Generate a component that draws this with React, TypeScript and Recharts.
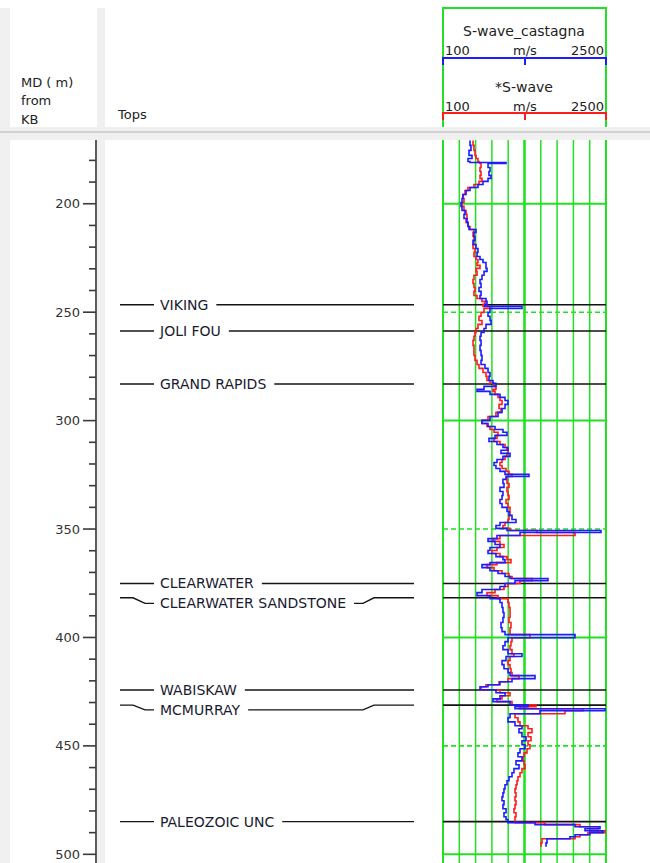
import React from 'react';
import { LineChart, Line, Scatter, XAxis, YAxis, ReferenceLine } from 'recharts';

const FONT = '"DejaVu Sans", sans-serif';
const FONT_SIZE = 13;
const NAME_SIZE = 14;
const GREEN = '#22e022';
const BLUE = '#1c1cff';
const RED = '#ff1c1c';
const PANEL_GRAY = '#f0f0f0';

// depth scale (m, measured depth from KB)
const DEPTH_DOMAIN = [170.6, 504];
const DEPTH_LABELS = [200, 250, 300, 350, 400, 450, 500];
const DEPTH_TICKS = [
  180, 190, 200, 210, 220, 230, 240, 250, 260, 270, 280, 290, 300, 310, 320,
  330, 340, 350, 360, 370, 380, 390, 400, 410, 420, 430, 440, 450, 460, 470,
  480, 490, 500,
];
const GRID_SOLID = [200, 300, 400, 500];
const GRID_DASHED = [250, 350, 450];

// velocity scale (m/s), 10 linear divisions
const VEL_DOMAIN = [100, 2500];
const VEL_GRID = [100, 340, 580, 820, 1060, 1300, 1540, 1780, 2020, 2260, 2500];

// formation tops
const TOP_NAMES = [
  'VIKING',
  'JOLI FOU',
  'GRAND RAPIDS',
  'CLEARWATER',
  'CLEARWATER SANDSTONE',
  'WABISKAW',
  'MCMURRAY',
  'PALEOZOIC UNC',
];
const TOP_DEPTHS = [246.6, 258.7, 283.1, 375.1, 381.7, 424.2, 431.2, 484.9];

// log samples
const DEPTH = [
  170.8, 173.1, 175.4, 177.7, 179.1, 180.5, 181.0, 181.4, 183.3, 185.1,
  186.9, 188.3, 189.7, 191.1, 192.5, 193.9, 195.7, 197.6, 199.4, 201.2,
  203.1, 204.9, 206.8, 208.6, 210.5, 211.9, 213.2, 215.1, 216.9, 218.8,
  220.6, 222.4, 224.3, 225.7, 227.1, 228.4, 229.8, 231.2, 233.0, 234.9,
  236.7, 238.6, 240.4, 242.3, 243.7, 245.0, 246.4, 247.3, 248.3, 250.1,
  251.9, 253.8, 255.6, 257.5, 259.3, 261.1, 263.0, 265.3, 267.6, 269.9,
  272.2, 274.1, 275.9, 277.8, 279.6, 281.5, 282.8, 284.2, 285.6, 286.5,
  287.9, 289.3, 290.7, 292.5, 294.4, 296.2, 298.1, 299.9, 301.3, 302.7,
  304.1, 305.4, 306.8, 308.2, 309.6, 311.0, 312.4, 313.7, 315.1, 316.5,
  317.9, 319.3, 320.7, 322.1, 323.4, 324.8, 325.8, 327.1, 329.0, 330.8,
  332.7, 334.5, 336.4, 338.2, 340.0, 341.9, 343.7, 345.6, 347.0, 348.4,
  349.7, 350.7, 351.6, 353.0, 354.4, 355.7, 357.1, 358.5, 359.9, 361.3,
  362.7, 364.1, 365.5, 366.4, 367.8, 369.2, 370.5, 371.9, 372.8, 373.8,
  375.1, 376.5, 377.9, 379.3, 380.7, 382.1, 383.9, 386.2, 388.5, 390.8,
  393.1, 395.5, 397.3, 398.7, 400.1, 401.9, 403.8, 405.6, 407.5, 408.8,
  410.7, 412.5, 414.4, 416.2, 417.6, 419.0, 420.4, 421.8, 422.7, 424.1,
  425.5, 426.9, 428.3, 429.6, 431.0, 431.9, 432.9, 433.8, 435.2, 437.0,
  438.9, 440.7, 442.1, 443.9, 445.8, 447.6, 449.5, 451.3, 453.2, 455.0,
  456.9, 458.7, 460.5, 462.4, 464.2, 466.1, 467.9, 469.8, 471.6, 473.5,
  475.3, 477.1, 479.0, 480.8, 482.7, 484.0, 485.4, 486.3, 487.3, 488.2,
  489.1, 490.0, 491.0, 491.9, 492.8, 494.7, 496.5,
];
const CASTAGNA = [
  498, 512, 483, 527, 468, 498, 1028, 763, 792, 777,
  807, 763, 689, 615, 498, 439, 394, 380, 365, 380,
  424, 409, 453, 468, 483, 586, 556, 571, 542, 586,
  615, 601, 645, 689, 733, 733, 748, 704, 674, 645,
  660, 630, 660, 645, 733, 748, 718, 1263, 792, 763,
  792, 807, 733, 704, 660, 645, 660, 645, 660, 674,
  660, 718, 763, 792, 777, 836, 880, 704, 601, 792,
  939, 1013, 1057, 1013, 969, 910, 792, 674, 763, 866,
  983, 1042, 866, 777, 895, 983, 1057, 954, 1087, 983,
  895, 851, 880, 939, 1013, 1366, 1028, 983, 998, 939,
  983, 969, 939, 969, 1042, 1072, 1116, 1175, 939, 880,
  1042, 2426, 1234, 895, 763, 866, 939, 792, 763, 880,
  983, 1013, 792, 674, 792, 910, 1013, 1087, 1646, 1160,
  1013, 939, 674, 601, 792, 939, 969, 983, 998, 983,
  954, 969, 1013, 2044, 1057, 1013, 983, 1057, 1263, 1028,
  969, 998, 1057, 1087, 1455, 1116, 939, 763, 645, 880,
  1013, 939, 836, 1087, 1352, 1160, 2485, 1528, 1087, 1057,
  1160, 1263, 1219, 1263, 1322, 1263, 1307, 1234, 1204, 1263,
  1175, 1219, 1145, 1116, 1072, 1042, 1013, 998, 983, 969,
  998, 983, 1028, 998, 1028, 1057, 1455, 2044, 2412, 2191,
  2456, 2264, 2044, 1969, 1631, 1617, 1617,
];
const SWAVE = [
  542, 556, 571, 586, 615, 630, 645, 660, 645, 660,
  645, 674, 630, 556, 468, 424, 394, 409, 380, 409,
  439, 453, 439, 468, 498, 556, 542, 556, 556, 542,
  571, 556, 586, 615, 601, 645, 586, 601, 556, 542,
  556, 571, 556, 601, 674, 718, 689, 792, 704, 660,
  630, 674, 615, 586, 571, 556, 542, 556, 556, 571,
  601, 630, 689, 733, 748, 792, 851, 880, 836, 866,
  910, 939, 969, 925, 954, 880, 763, 674, 748, 792,
  851, 910, 895, 851, 939, 1013, 1042, 1057, 1042, 1013,
  969, 939, 969, 1028, 1072, 1116, 1042, 1042, 1072, 1042,
  1057, 1072, 1028, 1057, 1087, 1087, 1072, 1057, 1013, 983,
  1087, 1484, 2044, 939, 836, 939, 998, 895, 821, 939,
  1042, 1101, 895, 748, 851, 969, 1072, 1116, 1410, 1234,
  1057, 998, 866, 748, 910, 1057, 1072, 1087, 1087, 1072,
  1101, 1087, 1087, 1381, 1116, 1101, 1087, 1116, 1145, 1087,
  1057, 1087, 1101, 1116, 1219, 1057, 925, 733, 660, 939,
  1087, 969, 895, 1116, 1469, 1234, 2161, 1896, 1160, 1204,
  1234, 1352, 1410, 1352, 1396, 1352, 1381, 1337, 1293, 1278,
  1293, 1307, 1263, 1234, 1204, 1190, 1175, 1160, 1175, 1160,
  1175, 1160, 1145, 1175, 1160, 1160, 1602, 2117, 2382, 2264,
  2485, 2235, 2117, 2044, 1558, 1543, 1543,
];

const rows = DEPTH.map((depth, i) => ({
  depth,
  castagna: CASTAGNA[i],
  swave: SWAVE[i],
}));

const PLOT_TOP = 140;
const PLOT_H = 723;
const TOPS_W = 443;
const AXIS_W = 96;
const PX_PER_M = PLOT_H / (DEPTH_DOMAIN[1] - DEPTH_DOMAIN[0]);
const MIN_LABEL_GAP_M = 9.2;

// names pushed down when two tops are too close to label on their own line
const labelShift = (i: number) => {
  if (i === 0) return 0;
  const gap = TOP_DEPTHS[i] - TOP_DEPTHS[i - 1];
  return gap < MIN_LABEL_GAP_M ? (MIN_LABEL_GAP_M - gap) * PX_PER_M : 0;
};

const topRows = TOP_NAMES.map((name, i) => ({
  name,
  depth: TOP_DEPTHS[i],
  pos: 0,
  shift: labelShift(i),
}));

let measureCtx: CanvasRenderingContext2D | null = null;
const textWidth = (s: string) => {
  if (!measureCtx) measureCtx = document.createElement('canvas').getContext('2d');
  if (!measureCtx) return s.length * 9;
  measureCtx.font = `${NAME_SIZE}px "DejaVu Sans"`;
  return measureCtx.measureText(s).width;
};

const textStyle = { fontFamily: FONT, fontSize: FONT_SIZE };
const nameStyle = { fontFamily: FONT, fontSize: NAME_SIZE };

// tick of the depth axis: long tick + label every 50 m, short tick otherwise
const DepthTick = (props: any) => {
  const { x, y, payload } = props;
  const major = DEPTH_LABELS.includes(payload.value);
  return (
    <g>
      <line x1={x - (major ? 13 : 7)} y1={y} x2={x} y2={y} stroke="#3a3a3a" strokeWidth={1.6} />
      {major && (
        <text x={x - 16} y={y} textAnchor="end" dominantBaseline="central" fill="#333" style={textStyle}>
          {payload.value}
        </text>
      )}
    </g>
  );
};

// formation top in the tops track: line, name, line
const TopMarker = (props: any) => {
  const { cx, cy, payload } = props;
  if (cx == null || cy == null || !payload) return null;
  const { name, shift } = payload;
  const x1 = cx;
  const x2 = cx + (TOPS_W - AXIS_W);
  const y = cy;
  const ly = y + shift;
  const textX = x1 + 64;
  const tEnd = textX + textWidth(name) + 8;
  const end = x2 - 29;
  const left = shift
    ? `${x1 + 24},${y} ${x1 + 37},${y} ${x1 + 49},${ly} ${x1 + 58},${ly}`
    : `${x1 + 24},${y} ${x1 + 58},${y}`;
  const right = shift
    ? `${tEnd},${ly} ${x2 - 80},${ly} ${x2 - 69},${y} ${end},${y}`
    : `${tEnd},${y} ${end},${y}`;
  return (
    <g>
      <polyline points={left} fill="none" stroke="#151515" strokeWidth={1.4} />
      <text x={textX} y={ly} dominantBaseline="central" fill="#1a1a30" style={nameStyle}>
        {name}
      </text>
      <polyline points={right} fill="none" stroke="#151515" strokeWidth={1.4} />
    </g>
  );
};

const Header = () => (
  <svg width={650} height={140} style={{ position: 'absolute', left: 0, top: 0 }}>
    <g fill="#222" style={textStyle}>
      <text x={21} y={82} dominantBaseline="central">MD ( m)</text>
      <text x={21} y={100} dominantBaseline="central">from</text>
      <text x={21} y={119} dominantBaseline="central">KB</text>
      <text x={118} y={114} dominantBaseline="central">Tops</text>

      <text x={524} y={31} textAnchor="middle" dominantBaseline="central" style={nameStyle}>S-wave_castagna</text>
      <text x={445} y={50} dominantBaseline="central">100</text>
      <text x={525} y={50} textAnchor="middle" dominantBaseline="central">m/s</text>
      <text x={604} y={50} textAnchor="end" dominantBaseline="central">2500</text>

      <text x={524} y={87} textAnchor="middle" dominantBaseline="central" style={nameStyle}>*S-wave</text>
      <text x={445} y={106} dominantBaseline="central">100</text>
      <text x={525} y={106} textAnchor="middle" dominantBaseline="central">m/s</text>
      <text x={604} y={106} textAnchor="end" dominantBaseline="central">2500</text>
    </g>
    <path d="M443 127 V8 H606 V127" fill="none" stroke={GREEN} strokeWidth={2} />
    <path d="M443 65 V58 H606 V65 M525 58 V65" fill="none" stroke={BLUE} strokeWidth={2} />
    <path d="M443 120 V113 H606 V120 M525 113 V120" fill="none" stroke={RED} strokeWidth={2} />
  </svg>
);

const DepthAndTops = () => (
  <LineChart
    layout="vertical"
    width={TOPS_W}
    height={PLOT_H}
    data={topRows}
    margin={{ top: 0, right: 0, bottom: 0, left: 0 }}
    style={{ position: 'absolute', left: 0, top: PLOT_TOP }}
  >
    <XAxis type="number" dataKey="pos" domain={[0, 1]} hide />
    <YAxis
      type="number"
      dataKey="depth"
      domain={DEPTH_DOMAIN}
      allowDataOverflow
      ticks={DEPTH_TICKS}
      interval={0}
      width={AXIS_W}
      tickSize={0}
      tickMargin={0}
      tickLine={false}
      axisLine={{ stroke: '#333', strokeWidth: 1.6 }}
      tick={DepthTick}
    />
    <Scatter data={topRows} dataKey="pos" shape={TopMarker} isAnimationActive={false} />
  </LineChart>
);

const LogTrack = () => (
  <LineChart
    layout="vertical"
    width={170}
    height={PLOT_H}
    data={rows}
    margin={{ top: 0, right: 4, bottom: 0, left: 3 }}
    style={{ position: 'absolute', left: 440, top: PLOT_TOP }}
  >
    <XAxis type="number" domain={VEL_DOMAIN} ticks={VEL_GRID} allowDataOverflow hide />
    <YAxis type="number" dataKey="depth" domain={DEPTH_DOMAIN} allowDataOverflow hide />
    {VEL_GRID.map((v, i) => (
      <ReferenceLine
        key={`v${v}`}
        x={v}
        stroke={GREEN}
        strokeWidth={i === 0 || i === VEL_GRID.length - 1 ? 2 : i === 5 ? 2.6 : 1.5}
      />
    ))}
    {GRID_SOLID.map((d) => (
      <ReferenceLine key={`s${d}`} y={d} stroke={GREEN} strokeWidth={2} />
    ))}
    {GRID_DASHED.map((d) => (
      <ReferenceLine key={`d${d}`} y={d} stroke={GREEN} strokeWidth={1.6} strokeDasharray="5 3" />
    ))}
    {TOP_DEPTHS.map((d) => (
      <ReferenceLine key={`t${d}`} y={d} stroke="#111" strokeWidth={1.6} />
    ))}
    <Line
      dataKey="swave"
      type="stepBefore"
      stroke={RED}
      strokeWidth={1.6}
      dot={false}
      isAnimationActive={false}
    />
    <Line
      dataKey="castagna"
      type="stepBefore"
      stroke={BLUE}
      strokeWidth={1.6}
      dot={false}
      isAnimationActive={false}
    />
  </LineChart>
);

export default function App() {
  return (
    <div
      style={{
        position: 'absolute',
        left: 0,
        top: 0,
        width: 650,
        height: 863,
        overflow: 'hidden',
        background: '#fff',
      }}
    >
      <div style={{ position: 'absolute', left: 0, top: 8, width: 10, height: 855, background: PANEL_GRAY }} />
      <div style={{ position: 'absolute', left: 97, top: 8, width: 8, height: 855, background: PANEL_GRAY }} />
      <div style={{ position: 'absolute', left: 0, top: 127, width: 650, height: 13, background: PANEL_GRAY }} />
      <div style={{ position: 'absolute', left: 0, top: 131, width: 650, height: 2, background: '#d2d2d2' }} />
      <Header />
      <DepthAndTops />
      <LogTrack />
    </div>
  );
}
